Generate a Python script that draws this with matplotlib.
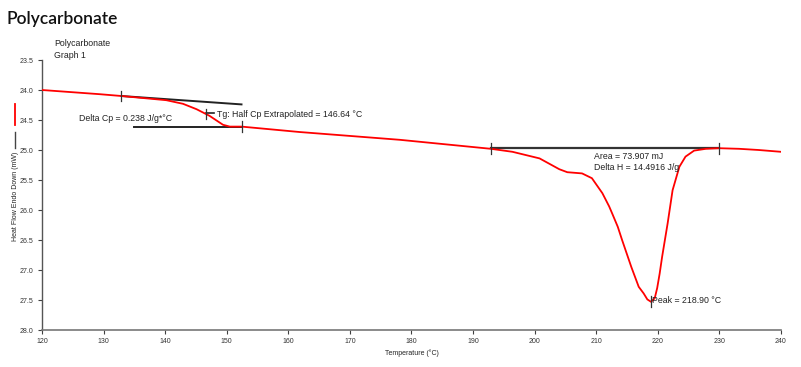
import matplotlib.pyplot as plt
from matplotlib.lines import Line2D

# DSC trace
temp = [120.0, 129.4, 132.9, 140.2, 142.9, 145.1, 147.2, 149.4, 150.5, 152.4,
        161.8, 178.1, 192.9, 196.4, 200.8, 204.0, 205.3, 207.7, 209.3, 211.0,
        212.1, 212.6, 213.5, 214.2, 215.7, 216.9, 217.7, 218.3, 218.9, 219.5,
        219.9, 220.3, 220.7, 221.6, 222.4, 223.5, 224.5, 225.9, 227.8, 229.9,
        233.2, 236.4, 240.0]
heat_flow = [24.00, 24.07, 24.10, 24.17, 24.23, 24.32, 24.43, 24.58, 24.61, 24.61,
             24.70, 24.83, 24.98, 25.03, 25.14, 25.32, 25.37, 25.39, 25.47, 25.72,
             25.94, 26.06, 26.28, 26.50, 26.95, 27.28, 27.39, 27.49, 27.53, 27.47,
             27.30, 27.06, 26.78, 26.22, 25.67, 25.28, 25.11, 25.01, 24.98, 24.97,
             24.98, 25.00, 25.03]

# glass transition construction
tg_upper_x = [132.9, 152.4]
tg_upper_y = [24.10, 24.24]
tg_lower_x = [135.0, 152.4]
tg_lower_y = [24.61, 24.61]
tg_temp, tg_val = 146.64, 24.40
delta_cp = 0.238

# melting peak
area_x = [192.9, 230.0]
area_y = [24.97, 24.97]
area_mj = 73.907
delta_h = 14.4916
peak_temp, peak_val = 218.90, 27.53

x_ticks = list(range(120, 241, 10))
y_ticks = [23.5, 24.0, 24.5, 25.0, 25.5, 26.0, 26.5, 27.0, 27.5, 28.0]

small = ['Liberation Sans Narrow', 'Liberation Sans', 'DejaVu Sans']
grey = '#404040'

fig = plt.figure(figsize=(8.01, 3.67), dpi=100)
ax = fig.add_axes([0.0524, 0.1008, 0.9226, 0.7357])

ax.plot(temp, heat_flow, color='#ff0000', lw=1.3, zorder=3, solid_joinstyle='round')

ax.plot(tg_upper_x, tg_upper_y, color='#222222', lw=1.4, zorder=2)
ax.plot(tg_lower_x, tg_lower_y, color='#222222', lw=1.4, zorder=2)
ax.plot(area_x, area_y, color='#333333', lw=1.6, zorder=2)

# small vertical marker ticks
marks = [(tg_upper_x[0], tg_upper_y[0]), (tg_lower_x[1], tg_lower_y[1]),
         (tg_temp, tg_val), (area_x[0], area_y[0]), (area_x[1], area_y[1]),
         (peak_temp, peak_val)]
for mx, my in marks:
    ax.plot([mx, mx], [my - 0.09, my + 0.09], color='#333333', lw=0.9, zorder=4)
ax.plot([tg_temp, tg_temp + 1.3], [tg_val - 0.01, tg_val - 0.01], color='#222222', lw=1.2)

ax.text(126.0, 24.48, f'Delta Cp = {delta_cp} J/g*°C', fontsize=6.3, family=small,
        color='#222222', va='center')
ax.text(tg_temp + 1.8, tg_val, f'Tg: Half Cp Extrapolated = {tg_temp:.2f} °C',
        fontsize=6.3, family=small, color='#222222', va='center')
ax.text(209.7, 25.11, f'Area = {area_mj} mJ', fontsize=6.3, family=small,
        color='#222222', va='center')
ax.text(209.7, 25.29, f'Delta H = {delta_h} J/g', fontsize=6.3, family=small,
        color='#222222', va='center')
ax.text(peak_temp + 0.2, peak_val - 0.02, f'Peak = {peak_temp:.2f} °C', fontsize=6.3,
        family=small, color='#222222', va='center')

ax.set_xlim(120, 240)
ax.set_ylim(28.0, 23.5)
ax.set_xticks(x_ticks)
ax.set_yticks(y_ticks)
ax.set_xticklabels([str(t) for t in x_ticks])
ax.set_yticklabels([f'{t:.1f}' for t in y_ticks])
ax.tick_params(labelsize=5, colors=grey, length=3, width=0.8, pad=3)
for lab in ax.get_xticklabels() + ax.get_yticklabels():
    lab.set_family(small)
    lab.set_color('#333333')
for s in ['top', 'right']:
    ax.spines[s].set_visible(False)
ax.spines['left'].set_color('#555555')
ax.spines['bottom'].set_color('#777777')
ax.spines['left'].set_linewidth(1.0)
ax.spines['bottom'].set_linewidth(1.2)

ax.set_xlabel('Temperature (°C)', fontsize=5, family=small, color='#222222', labelpad=3)
fig.text(0.019, 0.465, 'Heat Flow Endo Down (mW)', rotation=90, fontsize=5,
         family=small, color='#222222', ha='center', va='center')

# series markers beside the y label
fig.add_artist(Line2D([0.0187, 0.0187], [1 - 104 / 367, 1 - 125 / 367],
                      color='#ff0000', lw=1.3))
fig.add_artist(Line2D([0.0187, 0.0187], [1 - 132 / 367, 1 - 148 / 367],
                      color='#444444', lw=1.0))

fig.text(0.068, 1 - 43 / 367, 'Polycarbonate', fontsize=6.3, family=small,
         color='#222222', va='center')
fig.text(0.068, 1 - 55 / 367, 'Graph 1', fontsize=6.3, family=small,
         color='#222222', va='center')

fig.text(0.008, 1 - 19 / 367, 'Polycarbonate', fontsize=12.5, family=['Lato', 'DejaVu Sans'],
         weight='semibold', color='#111111', va='center')

fig.savefig('out.png', dpi=100)
